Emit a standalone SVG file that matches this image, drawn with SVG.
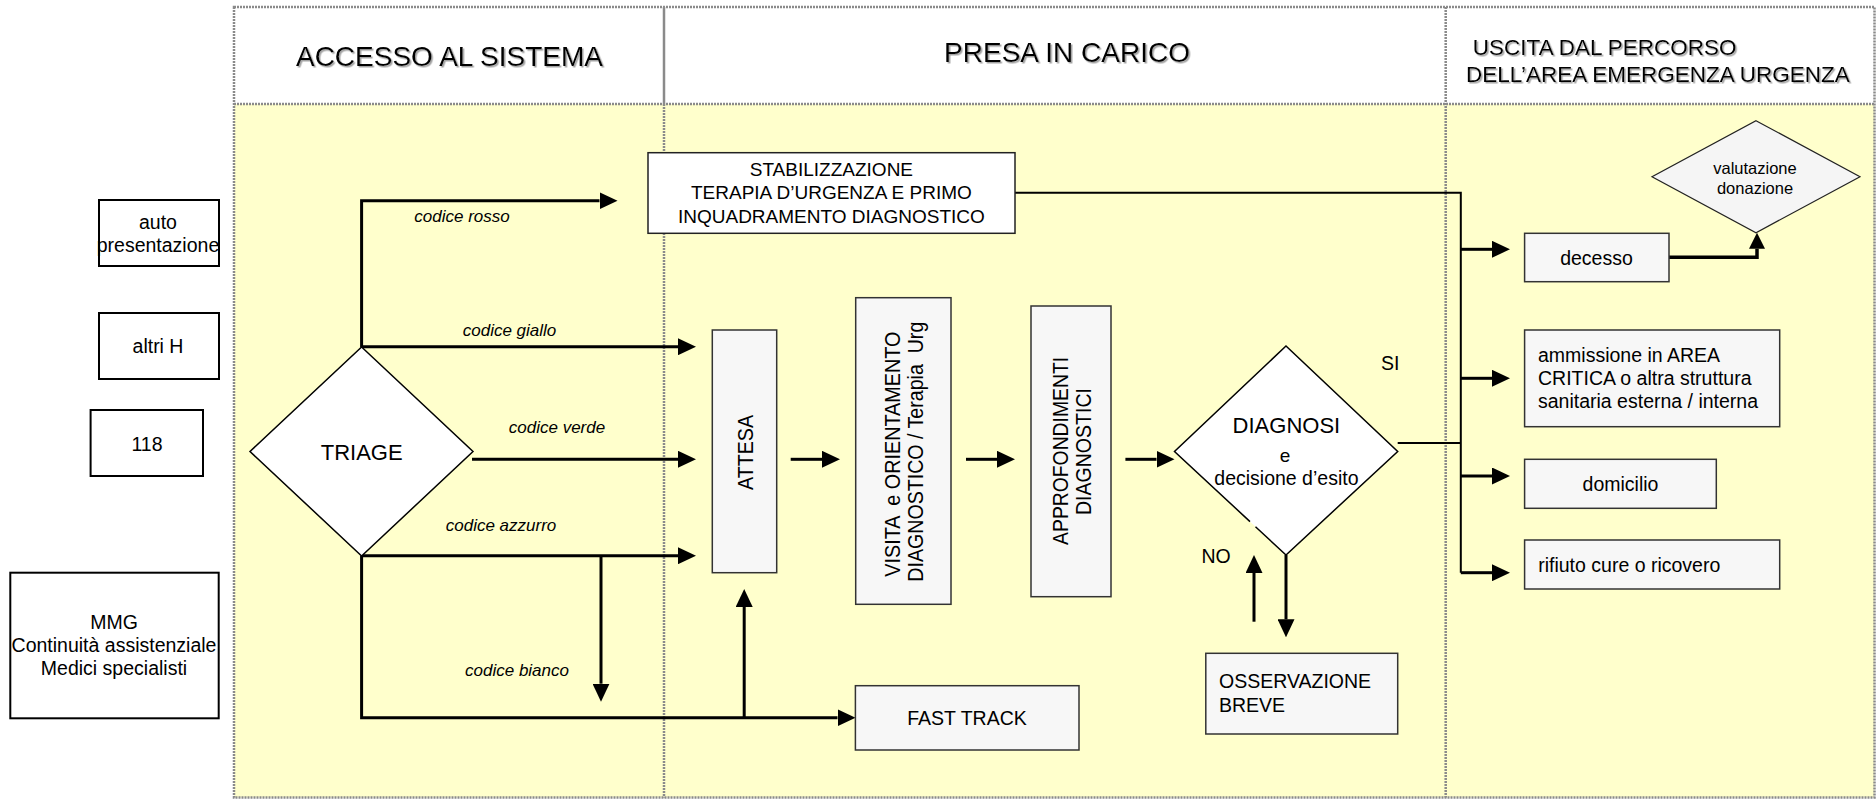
<svg xmlns="http://www.w3.org/2000/svg" width="1876" height="799" viewBox="0 0 1876 799">
  <defs>
    <style>
      text { font-family: "Liberation Sans", Arial, sans-serif; fill: #000; }
      .lane-head { fill: #fff; stroke: none; }
      .lane-body { fill: #ffffcc; stroke: none; }
      .dot { fill: none; stroke: #8a8a8a; stroke-width: 2.5; stroke-dasharray: 2 1; }
      .solid-div { fill: none; stroke: #8a8a8a; stroke-width: 2.5; }
      .title { font-size: 28px; text-anchor: middle; }
      .title-r { font-size: 22.5px; }
      .src { fill: #fff; stroke: #000; stroke-width: 2; }
      .box { fill: #f7f7f7; stroke: #333; stroke-width: 1.5; }
      .wbox { fill: #fff; stroke: #222; stroke-width: 1.5; }
      .dia { fill: #fff; stroke: #000; stroke-width: 1.5; }
      .t19 { font-size: 19.5px; }
      .c { text-anchor: middle; }
      .code { font-size: 17px; font-style: italic; text-anchor: middle; }
      .rot { font-size: 21.5px; text-anchor: middle; white-space: pre; }
      .flow { fill: none; stroke: #000; stroke-width: 3; marker-end: url(#head); }
      .thin { fill: none; stroke: #000; stroke-width: 2; }
    </style>
    <marker id="head" viewBox="0 0 18 17" refX="0" refY="8.5" markerWidth="18" markerHeight="17" markerUnits="userSpaceOnUse" orient="auto">
      <path d="M0,0 L18,8.5 L0,17 Z" fill="#000"/>
    </marker>
    <marker id="head-s" viewBox="0 0 16 16" refX="0" refY="8" markerWidth="16" markerHeight="16" markerUnits="userSpaceOnUse" orient="auto">
      <path d="M0,0 L16,8 L0,16 Z" fill="#000"/>
    </marker>
    <filter id="shadow" x="-5%" y="-20%" width="110%" height="150%">
      <feDropShadow dx="1.5" dy="1.5" stdDeviation="0.7" flood-color="#999" flood-opacity="0.9"/>
    </filter>
  </defs>

  <!-- swimlanes -->
  <g id="lanes">
    <rect class="lane-head" x="234" y="7" width="1640.5" height="97"/>
    <rect class="lane-body" x="234" y="104" width="1640.5" height="693.5"/>
    <rect class="dot" x="234" y="7" width="1640.5" height="790.5"/>
    <line class="dot" x1="234" y1="104" x2="1874.5" y2="104"/>
    <line class="solid-div" x1="664" y1="7" x2="664" y2="104"/>
    <line class="dot" x1="664" y1="104" x2="664" y2="797.5"/>
    <line class="dot" x1="1445.7" y1="7" x2="1445.7" y2="797.5"/>
    <g filter="url(#shadow)">
      <text class="title" x="449.5" y="66">ACCESSO AL SISTEMA</text>
      <text class="title" x="1067" y="62">PRESA IN CARICO</text>
      <text class="title-r" x="1472.8" y="55">USCITA DAL PERCORSO</text>
      <text class="title-r" x="1466" y="81.7">DELL’AREA EMERGENZA URGENZA</text>
    </g>
  </g>

  <!-- sources of access -->
  <g id="auto-presentazione">
    <rect class="src" x="99" y="200" width="120" height="66"/>
    <text class="t19 c" x="158" y="229">auto</text>
    <text class="t19 c" x="158" y="252">presentazione</text>
  </g>
  <g id="altri-h">
    <rect class="src" x="99" y="313" width="120" height="66"/>
    <text class="t19 c" x="158" y="353">altri H</text>
  </g>
  <g id="n118">
    <rect class="src" x="90.6" y="410" width="112.4" height="66"/>
    <text class="t19 c" x="147" y="451">118</text>
  </g>
  <g id="mmg">
    <rect class="src" x="10.3" y="572.7" width="208.4" height="145.6"/>
    <text class="t19 c" x="114" y="629">MMG</text>
    <text class="t19 c" x="114" y="652">Continuità assistenziale</text>
    <text class="t19 c" x="114" y="675">Medici specialisti</text>
  </g>

  <!-- connectors -->
  <g id="connectors">
    <path class="flow" d="M361.6,347 V200.7 H599.5"/>
    <path class="flow" d="M361.6,346.7 H678"/>
    <path class="flow" d="M472,459.3 H678"/>
    <path class="flow" d="M361.6,555.7 H678"/>
    <path class="flow" d="M601,555.7 V683.7"/>
    <path class="flow" d="M361.6,555.7 V717.7 H837.5"/>
    <path class="flow" d="M744.2,717.7 V607"/>
    <path class="flow" d="M790.7,459.3 H822"/>
    <path class="flow" d="M966,459.3 H997"/>
    <path class="flow" d="M1125.4,459.3 H1156.5"/>
    <path class="flow" d="M1254,621.7 V573"/>
    <path class="flow" d="M1286,555 V619.3"/>
    <path class="thin" d="M1015,192.7 H1460.8 V572.7"/>
    <path class="thin" d="M1397.7,443 H1460.8"/>
    <path class="flow" d="M1460.8,249.3 H1492"/>
    <path class="flow" d="M1460.8,378.3 H1492"/>
    <path class="flow" d="M1460.8,476 H1492"/>
    <path class="flow" d="M1460.8,572.7 H1492"/>
    <path d="M1669,257.3 H1757 V248.7" fill="none" stroke="#000" stroke-width="3.5" marker-end="url(#head-s)"/>
    <text class="code" x="462" y="222">codice rosso</text>
    <text class="code" x="509.5" y="335.5">codice giallo</text>
    <text class="code" x="557" y="433">codice verde</text>
    <text class="code" x="501" y="530.5">codice azzurro</text>
    <text class="code" x="517" y="676">codice bianco</text>
    <text class="t19" x="1381" y="370">SI</text>
    <text class="t19" x="1201.5" y="563">NO</text>
  </g>

  <g id="triage">
    <polygon class="dia" points="361.6,347 473,451.5 361.6,556 250,451.5"/>
    <text class="c" x="361.7" y="460" font-size="22">TRIAGE</text>
  </g>

  <g id="stabilizzazione">
    <rect class="wbox" x="648" y="152.7" width="367" height="80.6"/>
    <text class="c" font-size="19" x="831.4" y="175.7">STABILIZZAZIONE</text>
    <text class="c" font-size="19" x="831.4" y="199.3">TERAPIA D’URGENZA E PRIMO</text>
    <text class="c" font-size="19" x="831.4" y="223.3">INQUADRAMENTO DIAGNOSTICO</text>
  </g>

  <g id="attesa">
    <rect class="box" x="712.3" y="330" width="64.4" height="242.7"/>
    <text class="rot" transform="translate(752.7,452.5) rotate(-90)" textLength="75" lengthAdjust="spacingAndGlyphs">ATTESA</text>
  </g>

  <g id="visita">
    <rect class="box" x="855.7" y="297.7" width="95.3" height="306.6"/>
    <text class="rot" transform="translate(900,454.2) rotate(-90)" textLength="245" lengthAdjust="spacingAndGlyphs">VISITA  e ORIENTAMENTO</text>
    <text class="rot" transform="translate(922.7,451.7) rotate(-90)" textLength="260" lengthAdjust="spacingAndGlyphs">DIAGNOSTICO / Terapia  Urg</text>
  </g>

  <g id="approfondimenti">
    <rect class="box" x="1031" y="306" width="80" height="290.7"/>
    <text class="rot" transform="translate(1068,450.9) rotate(-90)" textLength="188" lengthAdjust="spacingAndGlyphs">APPROFONDIMENTI</text>
    <text class="rot" transform="translate(1091,451.5) rotate(-90)" textLength="127" lengthAdjust="spacingAndGlyphs">DIAGNOSTICI</text>
  </g>

  <g id="diagnosi">
    <polygon points="1286,346 1397.7,451.5 1286,555 1174.5,451.5" fill="#fff"/>
    <path d="M1250,521.6 L1174.5,451.5 L1286,346 L1397.7,451.5 L1286,555 L1255.5,526.7" fill="none" stroke="#000" stroke-width="1.5"/>
    <text class="c" x="1286.4" y="433.3" font-size="22">DIAGNOSI</text>
    <text class="c" x="1285" y="461.7" font-size="19">e</text>
    <text class="t19 c" x="1286.4" y="485">decisione d’esito</text>
  </g>

  <g id="osservazione">
    <rect class="box" x="1205.8" y="653.3" width="191.9" height="80.7"/>
    <text class="t19" x="1219" y="688">OSSERVAZIONE</text>
    <text class="t19" x="1219" y="712.3">BREVE</text>
  </g>

  <g id="fast-track">
    <rect class="box" x="855.4" y="685.7" width="223.6" height="64.3"/>
    <text class="t19 c" x="967" y="725">FAST TRACK</text>
  </g>

  <g id="valutazione">
    <polygon points="1756,120.7 1860,176.7 1756,232.7 1652,176.7" fill="#f5f5f5" stroke="#222" stroke-width="1.2"/>
    <text class="c" font-size="16.5" x="1755" y="174">valutazione</text>
    <text class="c" font-size="16.5" x="1755" y="194">donazione</text>
  </g>

  <g id="decesso">
    <rect class="box" x="1524.6" y="233.3" width="144.4" height="48.4"/>
    <text class="t19 c" x="1596.5" y="265">decesso</text>
  </g>

  <g id="ammissione">
    <rect class="box" x="1524.6" y="330" width="255.1" height="96.7"/>
    <text class="t19" x="1538" y="361.7">ammissione in AREA</text>
    <text class="t19" x="1538" y="385">CRITICA o altra struttura</text>
    <text class="t19" x="1538" y="408.3">sanitaria esterna / interna</text>
  </g>

  <g id="domicilio">
    <rect class="box" x="1524.6" y="459.3" width="191.7" height="49"/>
    <text class="t19 c" x="1620.5" y="490.7">domicilio</text>
  </g>

  <g id="rifiuto">
    <rect class="box" x="1524.6" y="540" width="255.1" height="49"/>
    <text class="t19" x="1538.2" y="571.7">rifiuto cure o ricovero</text>
  </g>
</svg>
